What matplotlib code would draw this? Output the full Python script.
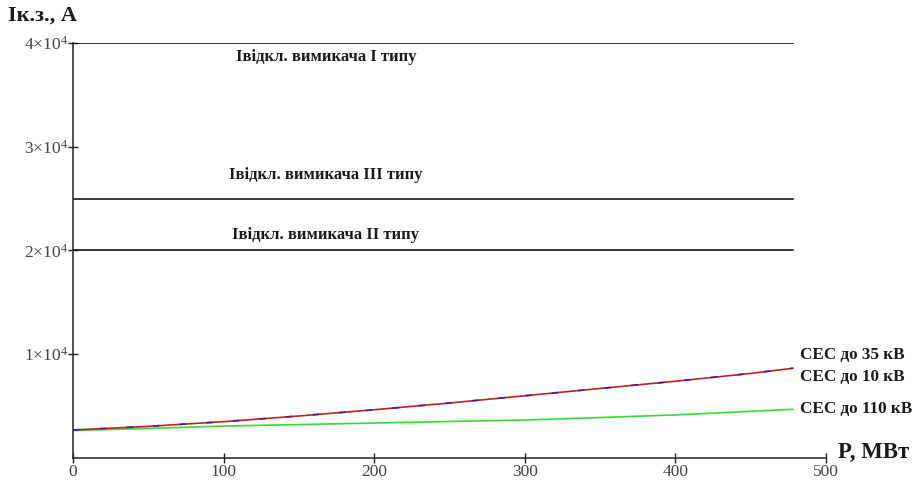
import matplotlib
matplotlib.use('Agg')
import matplotlib.pyplot as plt
from matplotlib.ticker import FuncFormatter

plt.rcParams['font.family'] = ['Liberation Serif', 'DejaVu Serif']
plt.rcParams['mathtext.fontset'] = 'custom'
plt.rcParams['mathtext.rm'] = 'Liberation Serif'
plt.rcParams['mathtext.it'] = 'Liberation Serif'

# power of the station, MW
p_mw = [0, 50, 100, 150, 200, 250, 300, 350, 400, 450, 478]
# short-circuit current, A
i_10kv = [2700, 3050, 3500, 4050, 4650, 5300, 6000, 6700, 7400, 8150, 8650]
i_35kv = [2700, 3050, 3500, 4050, 4650, 5300, 6000, 6700, 7400, 8150, 8650]
i_110kv = [2650, 2850, 3080, 3220, 3370, 3520, 3660, 3900, 4150, 4500, 4700]

# breaking current of the switch types, A
breaker_levels = [40000, 25000, 20000]
breaker_names = ['Івідкл. вимикача I типу', 'Івідкл. вимикача III типу',
                 'Івідкл. вимикача II типу']
breaker_text_y = [38650, 27300, 21500]

series_names = ['СЕС до 35 кВ', 'СЕС до 10 кВ', 'СЕС до 110 кВ']
series_text_y = [9950, 7800, 4720]

fig = plt.figure(figsize=(9.22, 4.82), dpi=100)
ax = fig.add_axes([0.0792, 0.0498, 0.8167, 0.861])

for lvl in breaker_levels:
    ax.plot([0, 478], [lvl, lvl], color='black', lw=1.1)
for name, ty in zip(breaker_names, breaker_text_y):
    ax.text(168, ty, name, ha='center', va='center', fontsize=12,
            fontweight='bold', color='#1a1a1a')

ax.plot(p_mw, i_110kv, color='#33dd33', lw=1.2)
ax.plot(p_mw, i_10kv, color='#c02020', lw=1.2)
ax.plot(p_mw, i_35kv, color='#4b1a9a', lw=1.2, ls=(0, (4, 12)))

for name, ty in zip(series_names, series_text_y):
    ax.text(483, ty, name, ha='left', va='center', fontsize=12.3,
            fontweight='bold', color='#1a1a1a')

ax.set_xlim(0, 500)
ax.set_ylim(0, 40000)
ax.set_xticks([0, 100, 200, 300, 400, 500])
ax.set_yticks([10000, 20000, 30000, 40000])
ax.yaxis.set_major_formatter(FuncFormatter(
    lambda v, pos: r'$%d{\times}10^{4}$' % round(v / 10000)))

for s in ['top', 'right']:
    ax.spines[s].set_visible(False)
for s in ['left', 'bottom']:
    ax.spines[s].set_color('#222222')
    ax.spines[s].set_linewidth(1.1)
ax.tick_params(direction='inout', length=7, width=1, color='#222222',
               labelsize=12.5, labelcolor='#444444')
ax.tick_params(axis='x', pad=1)
ax.tick_params(axis='y', pad=0)

fig.text(8 / 922, 1 - 16 / 482, 'Iк.з., А', ha='left', va='center',
         fontsize=16, fontweight='bold', color='#1a1a1a')
fig.text(838 / 922, 1 - 452 / 482, 'P, МВт', ha='left', va='center',
         fontsize=16.5, fontweight='bold', color='#1a1a1a')

fig.savefig('out.png', dpi=100)
